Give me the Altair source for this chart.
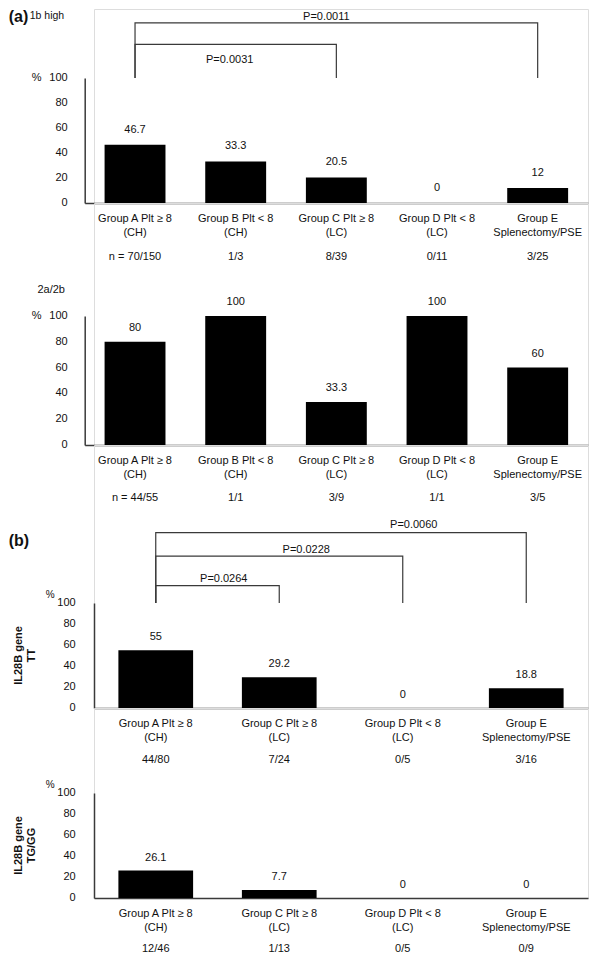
import altair as alt
import pandas as pd

FONT = "Liberation Sans"
INK = "#111111"
LINE = "#3a3a3a"

# ---------------- data ----------------
A_GROUPS = ["Group A Plt ≥ 8", "Group B Plt < 8", "Group C Plt ≥ 8", "Group D Plt < 8", "Group E"]
A_SUBS = ["(CH)", "(CH)", "(LC)", "(LC)", "Splenectomy/PSE"]
A1_VALUES = [46.7, 33.3, 20.5, 0, 12]
A1_N = ["n = 70/150", "1/3", "8/39", "0/11", "3/25"]
A2_VALUES = [80, 100, 33.3, 100, 60]
A2_N = ["n = 44/55", "1/1", "3/9", "1/1", "3/5"]

B_GROUPS = ["Group A Plt ≥ 8", "Group C Plt ≥ 8", "Group D Plt < 8", "Group E"]
B_SUBS = ["(CH)", "(LC)", "(LC)", "Splenectomy/PSE"]
B1_VALUES = [55, 29.2, 0, 18.8]
B1_N = ["44/80", "7/24", "0/5", "3/16"]
B2_VALUES = [26.1, 7.7, 0, 0]
B2_N = ["12/46", "1/13", "0/5", "0/9"]

Y_TICKS = [0, 20, 40, 60, 80, 100]

# brackets: (left group index, right group index, level on the % scale)
A1_BRACKETS = [(0, 4, 144.1), (0, 2, 126.9)]
# p-values: (text, anchor group index, horizontal shift, level)
A1_PTEXT = [("P=0.0011", 2, -10, 149), ("P=0.0031", 1, -6, 114.1)]
B1_BRACKETS = [(0, 3, 167), (0, 2, 144.6), (0, 1, 116.6)]
B1_PTEXT = [("P=0.0060", 2, 11, 174.5), ("P=0.0228", 1, 27, 150.7), ("P=0.0264", 0, 68, 123.1)]

PI = 0.395
W = 494


def note(text, xpx, level, size=11, weight="normal", align="left", angle=0):
    d = pd.DataFrame({"t": [text], "v": [level]})
    return alt.Chart(d).mark_text(
        align=align, baseline="middle", fontSize=size, fontWeight=weight, color=INK,
        font=FONT, angle=angle, lineBreak="|", lineHeight=13,
    ).encode(x=alt.value(xpx), y=alt.Y("v:Q"), text="t:N")


def panel(groups, subs, ns, values, height, yrange, xrange, offset, lab_x,
          value_dy, n_dy, brackets=(), ptexts=(), notes=()):
    cats = [f"{g}|{s}" for g, s in zip(groups, subs)]
    df = pd.DataFrame({"cat": cats, "v": values, "n": ns, "base": [0] * len(cats)})
    xscale = alt.Scale(domain=cats, range=xrange, paddingInner=PI, paddingOuter=PI / 2)
    yscale = alt.Scale(domain=[0, 100], range=yrange, nice=False)
    x = alt.X("cat:N", scale=xscale, sort=None, axis=alt.Axis(
        title=None, labels=False, ticks=False, domainColor=LINE, domainWidth=1.5))
    y = alt.Y("v:Q", scale=yscale, axis=alt.Axis(
        title=None, labels=False, ticks=False, grid=False, offset=offset,
        domainColor=LINE, domainWidth=1.5))

    txt = dict(baseline="middle", fontSize=11, color=INK, font=FONT)
    layers = [
        alt.Chart(df).mark_bar(color="black").encode(x=x, y=y),
        # value labels
        alt.Chart(df).mark_text(dy=value_dy, **txt)
        .encode(x=alt.X("cat:N"), y=alt.Y("v:Q"), text=alt.Text("v:Q", format="~g")),
        # category labels (two lines)
        alt.Chart(df).mark_text(dy=16, lineBreak="|", lineHeight=14.2, **txt)
        .encode(x=alt.X("cat:N"), y=alt.Y("base:Q"), text="cat:N"),
        # n row
        alt.Chart(df).mark_text(dy=n_dy, **txt)
        .encode(x=alt.X("cat:N"), y=alt.Y("base:Q"), text="n:N"),
        # y tick labels
        alt.Chart(pd.DataFrame({"v": Y_TICKS})).mark_text(align="right", **txt)
        .encode(x=alt.value(lab_x), y=alt.Y("v:Q"), text="v:Q"),
    ]
    rows = []
    for b, (l, r, top) in enumerate(brackets):
        rows += [
            {"b": b, "i": 0, "cat": cats[l], "v": 100},
            {"b": b, "i": 1, "cat": cats[l], "v": top},
            {"b": b, "i": 2, "cat": cats[r], "v": top},
            {"b": b, "i": 3, "cat": cats[r], "v": 100},
        ]
    if rows:
        layers.append(
            alt.Chart(pd.DataFrame(rows)).mark_line(color=LINE, strokeWidth=1.2)
            .encode(x=alt.X("cat:N"), y=alt.Y("v:Q"), detail="b:N", order="i:Q")
        )
    for text, gi, shift, level in ptexts:
        d = pd.DataFrame({"cat": [cats[gi]], "v": [level], "t": [text]})
        layers.append(
            alt.Chart(d).mark_text(dx=shift, **txt)
            .encode(x=alt.X("cat:N"), y=alt.Y("v:Q"), text="t:N")
        )
    layers += list(notes)
    return alt.layer(*layers).properties(width=W, height=height)


a1 = panel(A_GROUPS, A_SUBS, A1_N, A1_VALUES, 194, [194, 69], [-9.3, W], 9.3, -26.3, -15, 54,
           A1_BRACKETS, A1_PTEXT,
           [note("(a)", -85.3, 148.5, size=16, weight="bold"),
            note("1b high", -64.3, 150, size=10.5),
            note("%", -62.3, 100)])
a2 = panel(A_GROUPS, A_SUBS, A2_N, A2_VALUES, 242, [242, 113], [-9.3, W], 9.3, -26.3, -14, 53,
           notes=[note("2a/2b", -56.6, 120.2), note("%", -62.3, 100)])
b1 = panel(B_GROUPS, B_SUBS, B1_N, B1_VALUES, 263, [263, 158], [0, W], 0, -18.3, -13, 52,
           B1_BRACKETS, B1_PTEXT,
           [note("(b)", -85.3, 158.9, size=16, weight="bold"),
            note("%", -48.3, 107.5, size=10),
            note("IL28B gene|TT", -74.6, 50, weight="bold", align="center", angle=270)])
b2 = panel(B_GROUPS, B_SUBS, B2_N, B2_VALUES, 190, [190, 85], [0, W], 0, -18.3, -13, 51,
           notes=[note("%", -48.3, 107.2, size=10),
                  note("IL28B gene|TG/GG", -74.6, 50, weight="bold", align="center", angle=270)])

chart = alt.vconcat(a1, a2, b1, b2, spacing=0, bounds="flush", padding=0).configure_view(
    stroke=None
).configure(font=FONT)

chart.save("out.html", embed_options={"renderer": "svg", "actions": False})
